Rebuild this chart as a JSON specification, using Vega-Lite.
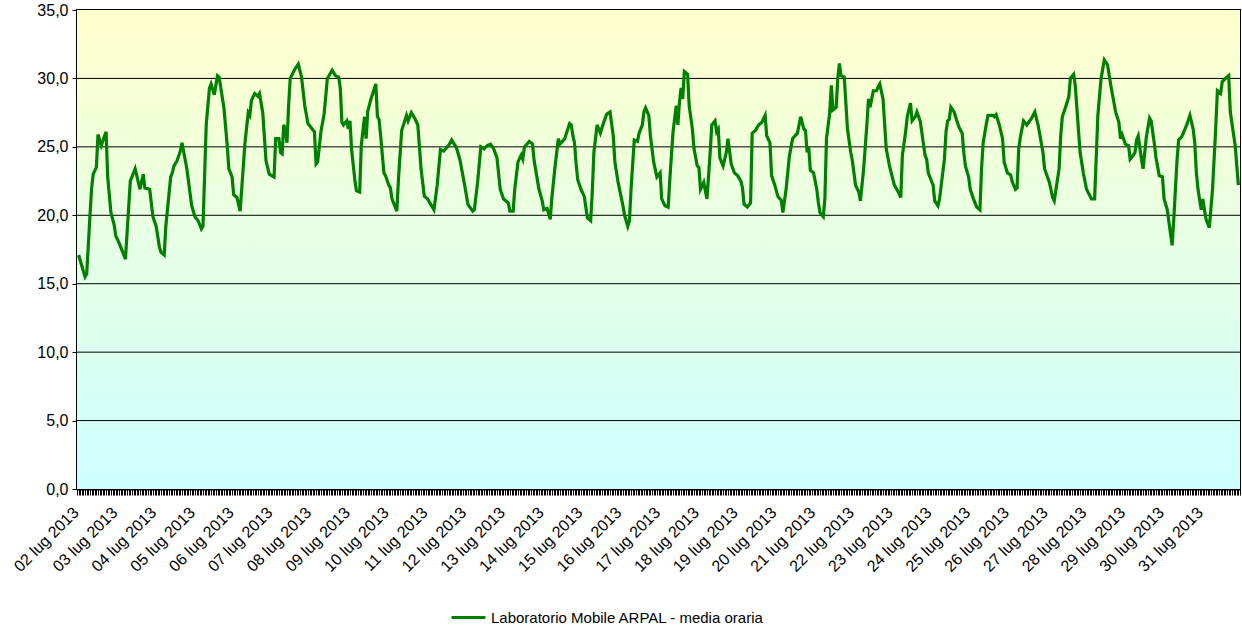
{
"$schema": "https://vega.github.io/schema/vega-lite/v6.json",
"width": 1163, "height": 479,
"autosize": {"type": "none"},
"padding": {"left": 77, "top": 10, "right": 2, "bottom": 141},
"background": "#ffffff",
"config": {"font": "Liberation Sans", "view": {"stroke": "#000000", "strokeWidth": 2}},
"layer": [
{"data": {"values": [{"inizio": "2013-07-02T00:00", "fine": "2013-08-01T00:00", "min": 0, "max": 35}]},
 "mark": {"type": "rect", "color": {"gradient": "linear", "x1": 0, "y1": 0, "x2": 0, "y2": 1, "stops": [{"offset": 0, "color": "#FFFFCC"}, {"offset": 1, "color": "#CCFFFF"}]}},
 "encoding": {"x": {"field": "inizio", "type": "temporal"}, "x2": {"field": "fine"}, "y": {"field": "min", "type": "quantitative"}, "y2": {"field": "max"}}},
{"data": {"values": [{"g": 5}, {"g": 10}, {"g": 15}, {"g": 20}, {"g": 25}, {"g": 30}]},
 "mark": {"type": "rule", "color": "#000000", "strokeWidth": 1},
 "encoding": {"y": {"field": "g", "type": "quantitative"}}},
{"data": {"values": [
{"t":"2013-07-02T01:00","v":17.1},{"t":"2013-07-02T03:00","v":16.3},{"t":"2013-07-02T05:00","v":15.5},{"t":"2013-07-02T06:00","v":15.7},{"t":"2013-07-02T08:00","v":19.9},{"t":"2013-07-02T09:00","v":21.9},{"t":"2013-07-02T10:00","v":23.0},{"t":"2013-07-02T12:00","v":23.5},{"t":"2013-07-02T13:00","v":25.9},{"t":"2013-07-02T15:00","v":25.1},{"t":"2013-07-02T18:00","v":26.1},{"t":"2013-07-02T19:00","v":22.8},{"t":"2013-07-02T21:00","v":20.2},{"t":"2013-07-02T23:00","v":19.3},
{"t":"2013-07-03T00:00","v":18.5},{"t":"2013-07-03T02:00","v":18.0},{"t":"2013-07-03T04:00","v":17.4},{"t":"2013-07-03T06:00","v":16.8},{"t":"2013-07-03T09:00","v":22.5},{"t":"2013-07-03T12:00","v":23.4},{"t":"2013-07-03T15:00","v":21.9},{"t":"2013-07-03T17:00","v":23.0},{"t":"2013-07-03T18:00","v":22.0},{"t":"2013-07-03T21:00","v":21.9},{"t":"2013-07-03T23:00","v":19.9},
{"t":"2013-07-04T01:00","v":19.2},{"t":"2013-07-04T03:00","v":17.7},{"t":"2013-07-04T04:00","v":17.3},{"t":"2013-07-04T06:00","v":17.1},{"t":"2013-07-04T07:00","v":19.2},{"t":"2013-07-04T10:00","v":22.8},{"t":"2013-07-04T11:00","v":23.1},{"t":"2013-07-04T12:00","v":23.6},{"t":"2013-07-04T14:00","v":24.0},{"t":"2013-07-04T16:00","v":24.7},{"t":"2013-07-04T17:00","v":25.3},{"t":"2013-07-04T20:00","v":23.4},{"t":"2013-07-04T23:00","v":20.7},
{"t":"2013-07-05T01:00","v":19.9},{"t":"2013-07-05T03:00","v":19.6},{"t":"2013-07-05T05:00","v":19.0},{"t":"2013-07-05T06:00","v":19.2},{"t":"2013-07-05T08:00","v":26.6},{"t":"2013-07-05T10:00","v":29.3},{"t":"2013-07-05T11:00","v":29.6},{"t":"2013-07-05T13:00","v":28.8},{"t":"2013-07-05T15:00","v":30.2},{"t":"2013-07-05T16:00","v":30.1},{"t":"2013-07-05T19:00","v":27.8},{"t":"2013-07-05T21:00","v":25.1},{"t":"2013-07-05T22:00","v":23.4},
{"t":"2013-07-06T00:00","v":22.8},{"t":"2013-07-06T01:00","v":21.5},{"t":"2013-07-06T03:00","v":21.3},{"t":"2013-07-06T05:00","v":20.3},{"t":"2013-07-06T08:00","v":25.3},{"t":"2013-07-06T10:00","v":27.5},{"t":"2013-07-06T11:00","v":27.3},{"t":"2013-07-06T12:00","v":28.4},{"t":"2013-07-06T14:00","v":28.9},{"t":"2013-07-06T16:00","v":28.7},{"t":"2013-07-06T17:00","v":28.9},{"t":"2013-07-06T19:00","v":27.5},{"t":"2013-07-06T21:00","v":24.0},{"t":"2013-07-06T23:00","v":23.0},
{"t":"2013-07-07T02:00","v":22.8},{"t":"2013-07-07T03:00","v":25.6},{"t":"2013-07-07T05:00","v":25.6},{"t":"2013-07-07T06:00","v":24.6},{"t":"2013-07-07T07:00","v":24.5},{"t":"2013-07-07T08:00","v":26.6},{"t":"2013-07-07T09:00","v":26.3},{"t":"2013-07-07T10:00","v":25.3},{"t":"2013-07-07T11:00","v":28.0},{"t":"2013-07-07T12:00","v":30.0},{"t":"2013-07-07T15:00","v":30.7},{"t":"2013-07-07T17:00","v":31.05},{"t":"2013-07-07T19:00","v":30.1},{"t":"2013-07-07T21:00","v":28.0},{"t":"2013-07-07T23:00","v":26.7},
{"t":"2013-07-08T01:00","v":26.4},{"t":"2013-07-08T03:00","v":26.1},{"t":"2013-07-08T04:00","v":23.75},{"t":"2013-07-08T05:00","v":23.9},{"t":"2013-07-08T07:00","v":26.1},{"t":"2013-07-08T09:00","v":27.4},{"t":"2013-07-08T11:00","v":30.0},{"t":"2013-07-08T13:00","v":30.4},{"t":"2013-07-08T14:00","v":30.6},{"t":"2013-07-08T16:00","v":30.2},{"t":"2013-07-08T18:00","v":30.1},{"t":"2013-07-08T19:00","v":29.3},{"t":"2013-07-08T20:00","v":26.8},{"t":"2013-07-08T21:00","v":26.6},{"t":"2013-07-08T23:00","v":26.9},
{"t":"2013-07-09T00:00","v":26.3},{"t":"2013-07-09T01:00","v":26.9},{"t":"2013-07-09T02:00","v":24.8},{"t":"2013-07-09T04:00","v":22.6},{"t":"2013-07-09T05:00","v":21.8},{"t":"2013-07-09T07:00","v":21.7},{"t":"2013-07-09T08:00","v":25.1},{"t":"2013-07-09T10:00","v":27.2},{"t":"2013-07-09T11:00","v":25.6},{"t":"2013-07-09T12:00","v":27.6},{"t":"2013-07-09T14:00","v":28.5},{"t":"2013-07-09T17:00","v":29.6},{"t":"2013-07-09T18:00","v":27.2},{"t":"2013-07-09T19:00","v":27.0},{"t":"2013-07-09T20:00","v":25.8},{"t":"2013-07-09T22:00","v":23.1},{"t":"2013-07-09T23:00","v":22.9},
{"t":"2013-07-10T01:00","v":22.2},{"t":"2013-07-10T02:00","v":22.0},{"t":"2013-07-10T03:00","v":21.2},{"t":"2013-07-10T06:00","v":20.3},{"t":"2013-07-10T07:00","v":22.6},{"t":"2013-07-10T09:00","v":26.2},{"t":"2013-07-10T12:00","v":27.3},{"t":"2013-07-10T13:00","v":26.9},{"t":"2013-07-10T15:00","v":27.5},{"t":"2013-07-10T17:00","v":27.1},{"t":"2013-07-10T19:00","v":26.6},{"t":"2013-07-10T21:00","v":23.4},{"t":"2013-07-10T23:00","v":21.4},
{"t":"2013-07-11T01:00","v":21.2},{"t":"2013-07-11T03:00","v":20.8},{"t":"2013-07-11T05:00","v":20.4},{"t":"2013-07-11T07:00","v":22.2},{"t":"2013-07-11T09:00","v":24.8},{"t":"2013-07-11T11:00","v":24.7},{"t":"2013-07-11T14:00","v":25.1},{"t":"2013-07-11T16:00","v":25.5},{"t":"2013-07-11T19:00","v":24.9},{"t":"2013-07-11T21:00","v":24.1},
{"t":"2013-07-12T00:00","v":22.2},{"t":"2013-07-12T02:00","v":20.8},{"t":"2013-07-12T05:00","v":20.3},{"t":"2013-07-12T06:00","v":20.4},{"t":"2013-07-12T08:00","v":22.4},{"t":"2013-07-12T10:00","v":25.0},{"t":"2013-07-12T12:00","v":24.85},{"t":"2013-07-12T14:00","v":25.1},{"t":"2013-07-12T16:00","v":25.2},{"t":"2013-07-12T18:00","v":24.85},{"t":"2013-07-12T20:00","v":24.2},{"t":"2013-07-12T22:00","v":21.9},
{"t":"2013-07-13T00:00","v":21.2},{"t":"2013-07-13T03:00","v":20.9},{"t":"2013-07-13T04:00","v":20.3},{"t":"2013-07-13T06:00","v":20.3},{"t":"2013-07-13T07:00","v":21.9},{"t":"2013-07-13T09:00","v":23.9},{"t":"2013-07-13T11:00","v":24.4},{"t":"2013-07-13T12:00","v":24.1},{"t":"2013-07-13T13:00","v":25.0},{"t":"2013-07-13T16:00","v":25.4},{"t":"2013-07-13T18:00","v":25.2},{"t":"2013-07-13T19:00","v":24.0},{"t":"2013-07-13T22:00","v":21.9},
{"t":"2013-07-14T00:00","v":21.05},{"t":"2013-07-14T01:00","v":20.4},{"t":"2013-07-14T03:00","v":20.5},{"t":"2013-07-14T04:00","v":20.1},{"t":"2013-07-14T05:00","v":19.7},{"t":"2013-07-14T06:00","v":21.3},{"t":"2013-07-14T08:00","v":23.6},{"t":"2013-07-14T10:00","v":25.6},{"t":"2013-07-14T11:00","v":25.2},{"t":"2013-07-14T14:00","v":25.6},{"t":"2013-07-14T15:00","v":26.0},{"t":"2013-07-14T17:00","v":26.7},{"t":"2013-07-14T18:00","v":26.6},{"t":"2013-07-14T19:00","v":25.8},{"t":"2013-07-14T20:00","v":25.3},{"t":"2013-07-14T21:00","v":23.75},{"t":"2013-07-14T22:00","v":22.6},
{"t":"2013-07-15T00:00","v":21.9},{"t":"2013-07-15T02:00","v":21.4},{"t":"2013-07-15T03:00","v":20.6},{"t":"2013-07-15T04:00","v":19.8},{"t":"2013-07-15T06:00","v":19.6},{"t":"2013-07-15T07:00","v":21.7},{"t":"2013-07-15T08:00","v":24.6},{"t":"2013-07-15T10:00","v":26.6},{"t":"2013-07-15T12:00","v":26.0},{"t":"2013-07-15T13:00","v":26.4},{"t":"2013-07-15T15:00","v":27.1},{"t":"2013-07-15T16:00","v":27.4},{"t":"2013-07-15T18:00","v":27.55},{"t":"2013-07-15T20:00","v":25.8},{"t":"2013-07-15T21:00","v":23.9},{"t":"2013-07-15T23:00","v":22.4},
{"t":"2013-07-16T02:00","v":20.7},{"t":"2013-07-16T03:00","v":20.0},{"t":"2013-07-16T05:00","v":19.2},{"t":"2013-07-16T06:00","v":19.6},{"t":"2013-07-16T07:00","v":21.9},{"t":"2013-07-16T09:00","v":25.5},{"t":"2013-07-16T11:00","v":25.4},{"t":"2013-07-16T12:00","v":26.0},{"t":"2013-07-16T14:00","v":26.6},{"t":"2013-07-16T15:00","v":27.55},{"t":"2013-07-16T16:00","v":27.85},{"t":"2013-07-16T18:00","v":27.3},{"t":"2013-07-16T19:00","v":25.8},{"t":"2013-07-16T21:00","v":23.9},{"t":"2013-07-16T23:00","v":22.8},
{"t":"2013-07-17T01:00","v":23.1},{"t":"2013-07-17T02:00","v":21.2},{"t":"2013-07-17T04:00","v":20.7},{"t":"2013-07-17T06:00","v":20.6},{"t":"2013-07-17T07:00","v":22.6},{"t":"2013-07-17T09:00","v":26.1},{"t":"2013-07-17T11:00","v":28.0},{"t":"2013-07-17T12:00","v":26.6},{"t":"2013-07-17T13:00","v":28.3},{"t":"2013-07-17T14:00","v":29.3},{"t":"2013-07-17T15:00","v":28.5},{"t":"2013-07-17T16:00","v":30.5},{"t":"2013-07-17T18:00","v":30.3},{"t":"2013-07-17T19:00","v":28.0},{"t":"2013-07-17T21:00","v":26.3},{"t":"2013-07-17T22:00","v":24.85},
{"t":"2013-07-18T00:00","v":23.6},{"t":"2013-07-18T01:00","v":23.5},{"t":"2013-07-18T02:00","v":21.9},{"t":"2013-07-18T04:00","v":22.4},{"t":"2013-07-18T06:00","v":21.2},{"t":"2013-07-18T08:00","v":24.6},{"t":"2013-07-18T09:00","v":26.6},{"t":"2013-07-18T11:00","v":26.9},{"t":"2013-07-18T12:00","v":26.1},{"t":"2013-07-18T13:00","v":26.3},{"t":"2013-07-18T14:00","v":24.2},{"t":"2013-07-18T16:00","v":23.6},{"t":"2013-07-18T18:00","v":24.6},{"t":"2013-07-18T19:00","v":25.6},{"t":"2013-07-18T21:00","v":23.75},{"t":"2013-07-18T23:00","v":23.1},
{"t":"2013-07-19T01:00","v":22.9},{"t":"2013-07-19T03:00","v":22.5},{"t":"2013-07-19T04:00","v":22.0},{"t":"2013-07-19T05:00","v":20.8},{"t":"2013-07-19T07:00","v":20.6},{"t":"2013-07-19T09:00","v":20.9},{"t":"2013-07-19T10:00","v":26.0},{"t":"2013-07-19T12:00","v":26.2},{"t":"2013-07-19T14:00","v":26.6},{"t":"2013-07-19T16:00","v":26.8},{"t":"2013-07-19T18:00","v":27.3},{"t":"2013-07-19T19:00","v":25.8},{"t":"2013-07-19T21:00","v":25.3},{"t":"2013-07-19T22:00","v":22.9},
{"t":"2013-07-20T00:00","v":22.2},{"t":"2013-07-20T02:00","v":21.35},{"t":"2013-07-20T04:00","v":21.1},{"t":"2013-07-20T05:00","v":20.2},{"t":"2013-07-20T07:00","v":21.9},{"t":"2013-07-20T09:00","v":24.3},{"t":"2013-07-20T11:00","v":25.6},{"t":"2013-07-20T14:00","v":26.0},{"t":"2013-07-20T16:00","v":27.2},{"t":"2013-07-20T18:00","v":26.3},{"t":"2013-07-20T19:00","v":26.2},{"t":"2013-07-20T20:00","v":24.6},{"t":"2013-07-20T21:00","v":25.0},{"t":"2013-07-20T22:00","v":23.3},
{"t":"2013-07-21T00:00","v":23.1},{"t":"2013-07-21T02:00","v":21.9},{"t":"2013-07-21T03:00","v":20.9},{"t":"2013-07-21T04:00","v":20.2},{"t":"2013-07-21T06:00","v":19.9},{"t":"2013-07-21T07:00","v":21.2},{"t":"2013-07-21T08:00","v":25.6},{"t":"2013-07-21T10:00","v":27.5},{"t":"2013-07-21T11:00","v":29.5},{"t":"2013-07-21T12:00","v":27.7},{"t":"2013-07-21T14:00","v":27.9},{"t":"2013-07-21T15:00","v":30.0},{"t":"2013-07-21T16:00","v":31.1},{"t":"2013-07-21T17:00","v":30.2},{"t":"2013-07-21T19:00","v":30.1},{"t":"2013-07-21T21:00","v":26.3},{"t":"2013-07-21T23:00","v":24.6},
{"t":"2013-07-22T00:00","v":24.0},{"t":"2013-07-22T02:00","v":22.2},{"t":"2013-07-22T04:00","v":21.7},{"t":"2013-07-22T05:00","v":21.05},{"t":"2013-07-22T07:00","v":23.4},{"t":"2013-07-22T09:00","v":26.6},{"t":"2013-07-22T10:00","v":28.5},{"t":"2013-07-22T11:00","v":27.9},{"t":"2013-07-22T13:00","v":29.1},{"t":"2013-07-22T15:00","v":29.1},{"t":"2013-07-22T16:00","v":29.4},{"t":"2013-07-22T17:00","v":29.6},{"t":"2013-07-22T19:00","v":28.5},{"t":"2013-07-22T21:00","v":24.85},{"t":"2013-07-22T23:00","v":23.6},
{"t":"2013-07-23T02:00","v":22.2},{"t":"2013-07-23T04:00","v":21.8},{"t":"2013-07-23T06:00","v":21.3},{"t":"2013-07-23T07:00","v":24.4},{"t":"2013-07-23T09:00","v":26.1},{"t":"2013-07-23T10:00","v":27.2},{"t":"2013-07-23T12:00","v":28.2},{"t":"2013-07-23T13:00","v":26.9},{"t":"2013-07-23T15:00","v":27.2},{"t":"2013-07-23T16:00","v":27.55},{"t":"2013-07-23T18:00","v":26.9},{"t":"2013-07-23T21:00","v":24.4},{"t":"2013-07-23T22:00","v":24.1},{"t":"2013-07-23T23:00","v":23.1},
{"t":"2013-07-24T02:00","v":22.2},{"t":"2013-07-24T03:00","v":21.05},{"t":"2013-07-24T05:00","v":20.7},{"t":"2013-07-24T06:00","v":21.2},{"t":"2013-07-24T09:00","v":24.1},{"t":"2013-07-24T10:00","v":26.1},{"t":"2013-07-24T11:00","v":26.9},{"t":"2013-07-24T12:00","v":27.0},{"t":"2013-07-24T13:00","v":27.9},{"t":"2013-07-24T15:00","v":27.55},{"t":"2013-07-24T17:00","v":26.8},{"t":"2013-07-24T18:00","v":26.45},{"t":"2013-07-24T20:00","v":26.0},{"t":"2013-07-24T21:00","v":24.6},{"t":"2013-07-24T22:00","v":23.6},
{"t":"2013-07-25T00:00","v":22.8},{"t":"2013-07-25T01:00","v":21.9},{"t":"2013-07-25T03:00","v":21.2},{"t":"2013-07-25T05:00","v":20.6},{"t":"2013-07-25T07:00","v":20.4},{"t":"2013-07-25T08:00","v":23.4},{"t":"2013-07-25T09:00","v":25.3},{"t":"2013-07-25T11:00","v":26.7},{"t":"2013-07-25T12:00","v":27.3},{"t":"2013-07-25T15:00","v":27.3},{"t":"2013-07-25T16:00","v":27.2},{"t":"2013-07-25T17:00","v":27.35},{"t":"2013-07-25T19:00","v":26.6},{"t":"2013-07-25T21:00","v":25.6},{"t":"2013-07-25T22:00","v":23.9},
{"t":"2013-07-26T00:00","v":23.1},{"t":"2013-07-26T02:00","v":22.95},{"t":"2013-07-26T03:00","v":22.45},{"t":"2013-07-26T05:00","v":21.9},{"t":"2013-07-26T06:00","v":22.0},{"t":"2013-07-26T07:00","v":24.85},{"t":"2013-07-26T08:00","v":25.7},{"t":"2013-07-26T10:00","v":26.9},{"t":"2013-07-26T12:00","v":26.6},{"t":"2013-07-26T15:00","v":27.1},{"t":"2013-07-26T17:00","v":27.55},{"t":"2013-07-26T19:00","v":26.6},{"t":"2013-07-26T22:00","v":24.6},{"t":"2013-07-26T23:00","v":23.4},
{"t":"2013-07-27T02:00","v":22.4},{"t":"2013-07-27T04:00","v":21.3},{"t":"2013-07-27T05:00","v":21.05},{"t":"2013-07-27T08:00","v":23.4},{"t":"2013-07-27T09:00","v":25.8},{"t":"2013-07-27T10:00","v":27.2},{"t":"2013-07-27T12:00","v":27.9},{"t":"2013-07-27T14:00","v":28.65},{"t":"2013-07-27T15:00","v":30.0},{"t":"2013-07-27T17:00","v":30.3},{"t":"2013-07-27T18:00","v":29.5},{"t":"2013-07-27T21:00","v":24.6},{"t":"2013-07-27T23:00","v":23.1},
{"t":"2013-07-28T01:00","v":21.9},{"t":"2013-07-28T04:00","v":21.2},{"t":"2013-07-28T06:00","v":21.2},{"t":"2013-07-28T08:00","v":27.3},{"t":"2013-07-28T10:00","v":30.0},{"t":"2013-07-28T12:00","v":31.35},{"t":"2013-07-28T14:00","v":31.0},{"t":"2013-07-28T16:00","v":29.5},{"t":"2013-07-28T18:00","v":28.2},{"t":"2013-07-28T19:00","v":27.55},{"t":"2013-07-28T21:00","v":26.8},{"t":"2013-07-28T22:00","v":25.6},{"t":"2013-07-28T23:00","v":25.9},
{"t":"2013-07-29T01:00","v":25.2},{"t":"2013-07-29T03:00","v":25.1},{"t":"2013-07-29T04:00","v":24.1},{"t":"2013-07-29T06:00","v":24.4},{"t":"2013-07-29T07:00","v":24.6},{"t":"2013-07-29T08:00","v":25.5},{"t":"2013-07-29T09:00","v":25.8},{"t":"2013-07-29T11:00","v":24.1},{"t":"2013-07-29T12:00","v":23.4},{"t":"2013-07-29T14:00","v":25.7},{"t":"2013-07-29T16:00","v":27.1},{"t":"2013-07-29T17:00","v":26.9},{"t":"2013-07-29T19:00","v":25.2},{"t":"2013-07-29T20:00","v":24.2},{"t":"2013-07-29T22:00","v":22.9},
{"t":"2013-07-30T00:00","v":22.8},{"t":"2013-07-30T01:00","v":21.2},{"t":"2013-07-30T03:00","v":20.4},{"t":"2013-07-30T04:00","v":19.5},{"t":"2013-07-30T06:00","v":17.8},{"t":"2013-07-30T07:00","v":19.7},{"t":"2013-07-30T09:00","v":24.0},{"t":"2013-07-30T10:00","v":25.5},{"t":"2013-07-30T12:00","v":25.75},{"t":"2013-07-30T15:00","v":26.6},{"t":"2013-07-30T17:00","v":27.3},{"t":"2013-07-30T19:00","v":26.3},{"t":"2013-07-30T20:00","v":25.3},{"t":"2013-07-30T21:00","v":23.1},{"t":"2013-07-30T22:00","v":21.9},
{"t":"2013-07-31T00:00","v":20.4},{"t":"2013-07-31T01:00","v":21.2},{"t":"2013-07-31T02:00","v":20.4},{"t":"2013-07-31T03:00","v":19.7},{"t":"2013-07-31T05:00","v":19.1},{"t":"2013-07-31T07:00","v":21.9},{"t":"2013-07-31T09:00","v":26.45},{"t":"2013-07-31T10:00","v":29.1},{"t":"2013-07-31T12:00","v":28.9},{"t":"2013-07-31T13:00","v":29.75},{"t":"2013-07-31T15:00","v":30.0},{"t":"2013-07-31T17:00","v":30.2},{"t":"2013-07-31T18:00","v":27.55},{"t":"2013-07-31T21:00","v":25.1},{"t":"2013-07-31T23:00","v":22.2}
]},
 "mark": {"type": "line", "strokeWidth": 3.2},
 "encoding": {
  "x": {"field": "t", "type": "temporal",
        "scale": {"domain": [{"year": 2013, "month": 7, "date": 2}, {"year": 2013, "month": 8, "date": 1}], "nice": false},
        "axis": {"title": null, "tickCount": 720, "labelExpr": "hours(datum.value) == 0 && month(datum.value) == 6 ? timeFormat(datum.value, '%d') + ' lug 2013' : ''",
                 "labelAngle": -45, "labelAlign": "right", "labelBaseline": "top", "labelOverlap": false, "labelFlush": false, "grid": false,
                 "tickSize": 6, "tickColor": "#000000", "tickWidth": 1, "domainColor": "#000000", "domainWidth": 2,
                 "labelFontSize": 16, "labelColor": "#000000", "labelPadding": 9, "labelOffset": -7, "labelFont": "Liberation Sans"}},
  "y": {"field": "v", "type": "quantitative",
        "scale": {"domain": [0, 35], "nice": false},
        "axis": {"title": null, "values": [0, 5, 10, 15, 20, 25, 30, 35], "labelExpr": "replace(format(datum.value, '.1f'), '.', ',')", "grid": false,
                 "tickSize": 5, "tickColor": "#000000", "domainColor": "#000000", "domainWidth": 2,
                 "labelFontSize": 16, "labelColor": "#000000", "labelPadding": 4, "labelFont": "Liberation Sans"}},
  "color": {"datum": "Laboratorio Mobile ARPAL - media oraria", "scale": {"range": ["#008000"]},
            "legend": {"title": null, "orient": "none", "legendX": 373, "legendY": 589, "symbolType": "stroke", "symbolStrokeWidth": 3, "symbolSize": 1156,
                       "labelFontSize": 15, "labelLimit": 0, "labelColor": "#000000", "labelFont": "Liberation Sans", "padding": 0}}
 }}
]
}
